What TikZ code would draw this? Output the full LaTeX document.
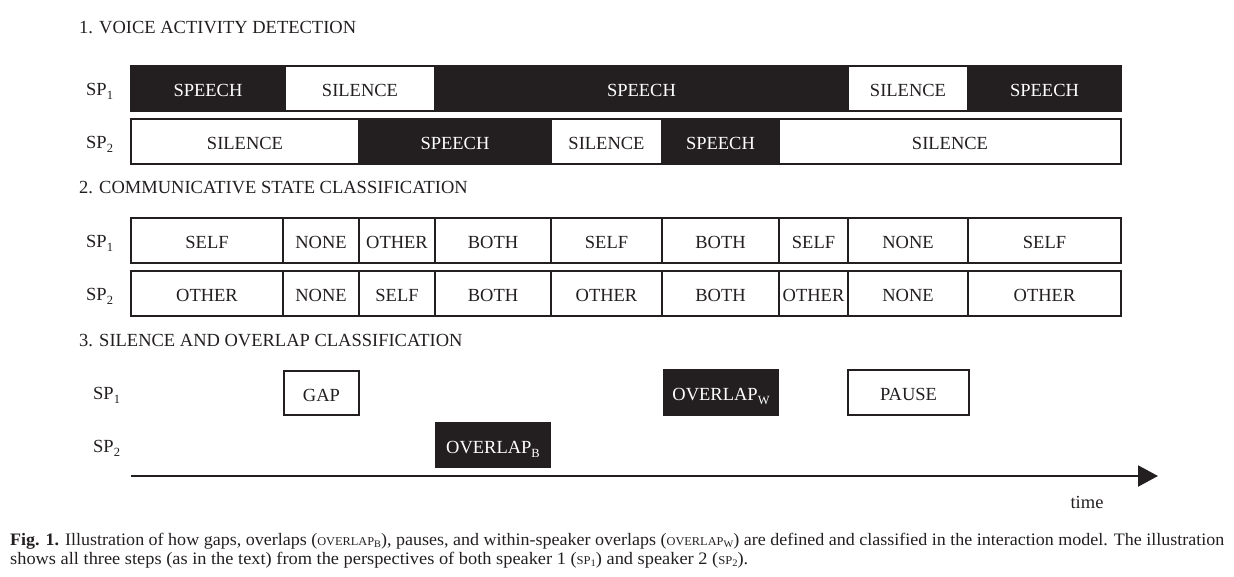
\documentclass[tikz,border=0pt]{standalone}
\usepackage{fontspec}
\setmainfont{Liberation Serif}
\usetikzlibrary{arrows.meta}
\definecolor{ink}{RGB}{35,31,32}
\newcommand\segfont{\fontsize{18.5}{20}\selectfont}
\newcommand\capfont{\fontsize{17.5}{19}\selectfont}
\newcommand\lowsub[1]{\raisebox{-4pt}{\fontsize{12.5}{12.5}\selectfont #1}}
\newcommand\capsm[1]{{\fontsize{12}{12}\selectfont #1}}
\newcommand\capsub[1]{\raisebox{-2.5pt}{\fontsize{10}{10}\selectfont #1}}
\begin{document}
\begin{tikzpicture}[x=1pt,y=-1pt,
  seg/.style={draw=ink, line width=2pt, inner sep=0pt, outer sep=0pt,
    font=\segfont, anchor=north west, minimum height=45pt,
    text height=16pt, text depth=0pt},
  darkseg/.style={seg, fill=ink, text=white},
  lightseg/.style={seg, fill=white, text=ink},
  heading/.style={anchor=base west, inner sep=0pt, font=\segfont, text=ink},
  spk/.style={anchor=base west, inner sep=0pt, font=\segfont, text=ink},
  capline/.style={anchor=base west, inner sep=0pt, font=\capfont, text=ink}]
\useasboundingbox (0,0) rectangle (1234,576);

% 1. voice activity detection
\node[heading] (h1) at (79,33) {1. VOICE ACTIVITY DETECTION};
\node[spk] (va1) at (86,95) {SP\lowsub{1}};
\node[spk] (va2) at (86,148) {SP\lowsub{2}};
\foreach \a/\b/\t/\s [count=\i] in {131/285/SPEECH/darkseg, 285/435/SILENCE/lightseg,
    435/848/SPEECH/darkseg, 848/968/SILENCE/lightseg, 968/1121/SPEECH/darkseg}
  \node[\s, minimum width={(\b-\a)*1pt}] (vadA\i) at (\a,66) {\t};
\foreach \a/\b/\t/\s [count=\i] in {131/359/SILENCE/lightseg, 359/551/SPEECH/darkseg,
    551/662/SILENCE/lightseg, 662/779/SPEECH/darkseg, 779/1121/SILENCE/lightseg}
  \node[\s, minimum width={(\b-\a)*1pt}] (vadB\i) at (\a,119) {\t};

% 2. communicative state classification
\node[heading] (h2) at (79,193) {2. COMMUNICATIVE STATE CLASSIFICATION};
\node[spk] (cs1) at (86,247) {SP\lowsub{1}};
\node[spk] (cs2) at (86,300) {SP\lowsub{2}};
\foreach \a/\b/\t [count=\i] in {131/283/SELF, 283/359/NONE, 359/435/OTHER,
    435/551/BOTH, 551/662/SELF, 662/779/BOTH, 779/848/SELF, 848/968/NONE, 968/1121/SELF}
  \node[lightseg, minimum width={(\b-\a)*1pt}] (csA\i) at (\a,218) {\t};
\foreach \a/\b/\t [count=\i] in {131/283/OTHER, 283/359/NONE, 359/435/SELF,
    435/551/BOTH, 551/662/OTHER, 662/779/BOTH, 779/848/OTHER, 848/968/NONE, 968/1121/OTHER}
  \node[lightseg, minimum width={(\b-\a)*1pt}] (csB\i) at (\a,271) {\t};

% 3. silence and overlap classification
\node[heading] (h3) at (79,346) {3. SILENCE AND OVERLAP CLASSIFICATION};
\node[spk] (so1) at (93,399) {SP\lowsub{1}};
\node[spk] (so2) at (93,452) {SP\lowsub{2}};
\node[lightseg, minimum width=75pt, minimum height=44pt] (gap) at (284,371) {GAP};
\node[darkseg, draw=none, minimum width=116pt, minimum height=47pt] (ovw) at (663,369) {OVERLAP\lowsub{W}};
\node[lightseg, minimum width=121pt, minimum height=45pt] (pause) at (848,370) {PAUSE};
\node[darkseg, draw=none, minimum width=116pt, minimum height=46pt] (ovb) at (435,422) {OVERLAP\lowsub{B}};

% time axis
\coordinate (t0) at (131,476);
\coordinate (t1) at (1158,476);
\draw[ink, line width=2pt, -{Triangle[length=20pt,width=21pt]}] (t0) -- (t1);
\node[font=\segfont, text=ink, inner sep=0pt] (time) at (1087,502) {time};

% caption
\node[capline] (cap1) at (10,545) {\resizebox{1214pt}{\height}{\textbf{Fig. 1.} Illustration of how gaps, overlaps (\capsm{OVERLAP}\capsub{B}), pauses, and within-speaker overlaps (\capsm{OVERLAP}\capsub{W}) are defined and classified in the interaction model. The illustration}};
\node[capline] (cap2) at (10,564) {\resizebox{738pt}{\height}{shows all three steps (as in the text) from the perspectives of both speaker 1 (\capsm{SP}\capsub{1}) and speaker 2 (\capsm{SP}\capsub{2}).}};
\end{tikzpicture}
\end{document}
